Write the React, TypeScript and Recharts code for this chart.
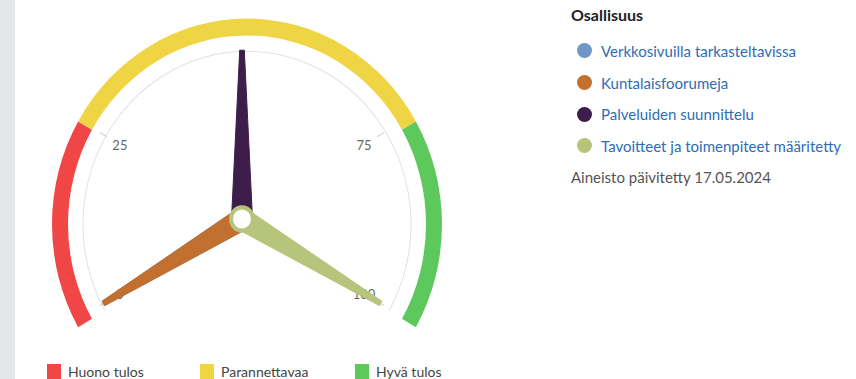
import { PieChart, Pie, Cell, RadialBarChart, RadialBar, PolarAngleAxis } from "recharts";

// gauge bands (value ranges 0-25, 25-75, 75-100)
const bandNames = ["Huono tulos", "Parannettavaa", "Hyvä tulos"];
const bandSizes = [25, 50, 25];
const bandColors = ["#f04646", "#efd443", "#5dc95d"];

// needles
const needleNames = [
  "Verkkosivuilla tarkasteltavissa",
  "Kuntalaisfoorumeja",
  "Palveluiden suunnittelu",
  "Tavoitteet ja toimenpiteet määritetty",
];
const needleValues = [0, 0, 50, 100];
const needleColors = ["#6e96c8", "#c2702f", "#3d1e4b", "#b7c47b"];

const axisTicks = [0, 25, 75, 100];

const bandData = bandNames.map((name, i) => ({ name, value: bandSizes[i] }));
const needleData = needleNames.map((name, i) => ({ name, value: needleValues[i] }));

const W = 480;
const H = 340;
const CX = 242;
const CY = 207.6;
const START = 210;
const END = -30;
const FONT = "Lato, 'Open Sans', sans-serif";

function Needle(props: any) {
  const { cx, cy, endAngle, fill, index } = props;
  const t = (endAngle * Math.PI) / 180;
  const dx = Math.cos(t);
  const dy = -Math.sin(t);
  const px = -dy;
  const py = dx;
  const len = 160;
  const base = 10.5;
  const top = 2.3;
  const d = [
    `M${cx + px * base},${cy + py * base}`,
    `L${cx + dx * len + px * top},${cy + dy * len + py * top}`,
    `L${cx + dx * len - px * top},${cy + dy * len - py * top}`,
    `L${cx - px * base},${cy - py * base}`,
    "Z",
  ].join(" ");
  return (
    <g>
      <path d={d} fill={fill} stroke={fill} strokeWidth={1} strokeLinejoin="round" />
      {index === needleData.length - 1 && (
        <circle cx={cx} cy={cy} r={11} fill="#fff" stroke={fill} strokeWidth={4} />
      )}
    </g>
  );
}

function AxisTick(props: any) {
  const { x, y, cx, cy, payload } = props;
  const vx = x - cx;
  const vy = y - cy;
  const r = Math.sqrt(vx * vx + vy * vy);
  const k = (r - 15) / r;
  return (
    <text
      x={cx + vx * k}
      y={cy + vy * k}
      textAnchor="middle"
      dominantBaseline="central"
      fontSize={13}
      fill="#666"
      fontFamily={FONT}
    >
      {payload.value}
    </text>
  );
}

export default function App() {
  return (
    <div
      style={{
        position: "absolute",
        left: 0,
        top: 0,
        width: 856,
        height: 379,
        background: "#fff",
        overflow: "hidden",
        fontFamily: FONT,
      }}
    >
      <div style={{ position: "absolute", left: 0, top: 0, width: 15, height: 379, background: "#e5e6e9" }} />

      <div style={{ position: "absolute", left: 0, top: 0, width: W, height: H, transform: "scaleY(1.055)", transformOrigin: "0 0" }}>
        <div style={{ position: "absolute", left: 0, top: 0 }}>
          <PieChart width={W} height={H}>
            <Pie
              data={[{ name: "axis", value: 100 }]}
              dataKey="value"
              cx={CX}
              cy={CY}
              startAngle={START}
              endAngle={END}
              innerRadius={163.5}
              outerRadius={164.5}
              fill="#e2e2e2"
              stroke="none"
              isAnimationActive={false}
            />
            <Pie
              data={bandData}
              dataKey="value"
              cx={CX}
              cy={CY}
              startAngle={START}
              endAngle={END}
              innerRadius={179}
              outerRadius={195}
              stroke="none"
              isAnimationActive={false}
            >
              {bandData.map((b, i) => (
                <Cell key={b.name} fill={bandColors[i]} />
              ))}
            </Pie>
          </PieChart>
        </div>
        {/* tick marks and labels, under the needles */}
        <div style={{ position: "absolute", left: 0, top: 0 }}>
          <RadialBarChart
            width={W}
            height={H}
            cx={CX}
            cy={CY}
            innerRadius={20}
            outerRadius={164}
            startAngle={START}
            endAngle={END}
            data={needleData}
          >
            <PolarAngleAxis
              type="number"
              domain={[0, 100]}
              ticks={axisTicks}
              axisLine={false}
              orientation="inner"
              tickSize={8}
              tickLine={{ stroke: "#d0d0d0" }}
              tick={<AxisTick />}
            />
            <RadialBar dataKey="value" fill="none" isAnimationActive={false} />
          </RadialBarChart>
        </div>
        <div style={{ position: "absolute", left: 0, top: 0 }}>
          <RadialBarChart
            width={W}
            height={H}
            cx={CX}
            cy={CY}
            innerRadius={20}
            outerRadius={164}
            startAngle={START}
            endAngle={END}
            data={needleData}
          >
            <PolarAngleAxis type="number" domain={[0, 100]} axisLine={false} tickLine={false} tick={false} />
            <RadialBar dataKey="value" shape={<Needle />} isAnimationActive={false}>
              {needleData.map((n, i) => (
                <Cell key={n.name} fill={needleColors[i]} />
              ))}
            </RadialBar>
          </RadialBarChart>
        </div>
      </div>

      <div style={{ position: "absolute", left: 571, top: 5 }}>
        <div style={{ fontWeight: 700, fontSize: 16, color: "#222", height: 22 }}>Osallisuus</div>
        <div style={{ marginTop: 8 }}>
          {needleNames.map((n, i) => (
            <div key={n} style={{ display: "flex", alignItems: "center", height: 31.7 }}>
              <span
                style={{
                  width: 15,
                  height: 15,
                  borderRadius: "50%",
                  background: needleColors[i],
                  marginLeft: 6,
                  marginRight: 9,
                }}
              />
              <span style={{ fontSize: 15, color: "#2e6db4" }}>{n}</span>
            </div>
          ))}
        </div>
        <div style={{ fontSize: 15, color: "#555", marginTop: 6 }}>Aineisto päivitetty 17.05.2024</div>
      </div>

      {bandNames.map((n, i) => (
        <div
          key={n}
          style={{
            position: "absolute",
            left: [47, 200, 355][i],
            top: 363,
            display: "flex",
            alignItems: "center",
          }}
        >
          <span style={{ width: 14, height: 15, background: bandColors[i], marginRight: 7 }} />
          <span style={{ fontSize: 14, color: "#444" }}>{n}</span>
        </div>
      ))}
    </div>
  );
}
